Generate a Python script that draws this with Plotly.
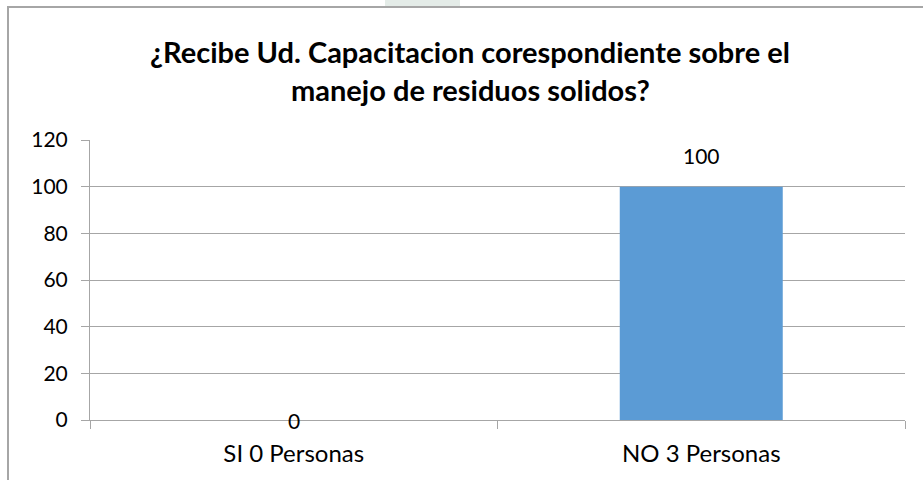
import plotly.graph_objects as go

categories = ["SI 0 Personas", "NO 3 Personas"]
values = [0, 100]
y_ticks = [0, 20, 40, 60, 80, 100, 120]
title_lines = ["¿Recibe Ud. Capacitacion corespondiente sobre el", "manejo de residuos solidos?"]

W, H = 923, 480
# target plot area in window pixels: x 90..905, y 140..420
L, R, T, B = 90, 923 - 905, 140, 480 - 420
pw, ph = W - L - R, H - T - B


def px_x(p):
    return (p - L) / pw


def px_y(p):
    return (H - B - p) / ph


FONT = "Lato"
GRID = "#a6a6a6"

fig = go.Figure(
    go.Bar(
        x=categories,
        y=values,
        width=0.4,
        marker=dict(color="#5B9BD5", line=dict(width=0)),
        hoverinfo="x+y",
    )
)

annotations = []
for c, v in zip(categories, values):
    if v == 0:
        annotations.append(dict(x=c, y=v, xref="x", yref="y", text=str(v), showarrow=False,
                                yanchor="middle", yshift=0,
                                font=dict(family=FONT, size=21, color="#000000")))
    else:
        annotations.append(dict(x=c, y=v, xref="x", yref="y", text=str(v), showarrow=False,
                                yanchor="bottom", yshift=17,
                                font=dict(family=FONT, size=21, color="#000000")))

title_y = [51, 89]
for line, yy in zip(title_lines, title_y):
    annotations.append(dict(x=px_x(470), y=px_y(yy), xref="paper", yref="paper", text="<b>" + line + "</b>",
                            showarrow=False, xanchor="center", yanchor="middle",
                            font=dict(family=FONT, size=29, color="#000000")))

shapes = [
    # chart border (top and left)
    dict(type="line", xref="paper", yref="paper", x0=px_x(7), x1=px_x(950), y0=px_y(7), y1=px_y(7),
         line=dict(color="#a6a6a6", width=2), layer="above"),
    dict(type="line", xref="paper", yref="paper", x0=px_x(8), x1=px_x(8), y0=px_y(6), y1=px_y(500),
         line=dict(color="#a6a6a6", width=2), layer="above"),
    # faint watermark above border
    dict(type="rect", xref="paper", yref="paper", x0=px_x(385), x1=px_x(460), y0=px_y(0), y1=px_y(6),
         fillcolor="#e4ece8", line=dict(width=0), layer="above"),
]

fig.update_layout(
    width=W,
    height=H,
    margin=dict(l=L, r=R, t=T, b=B, pad=0),
    paper_bgcolor="#ffffff",
    plot_bgcolor="#ffffff",
    showlegend=False,
    annotations=annotations,
    shapes=shapes,
    font=dict(family=FONT, size=21, color="#000000"),
)

fig.update_xaxes(
    type="category",
    tickson="boundaries",
    ticks="outside",
    ticklen=8,
    tickcolor=GRID,
    tickwidth=1,
    showline=True,
    linecolor=GRID,
    linewidth=1,
    showgrid=False,
    tickfont=dict(family=FONT, size=24, color="#000000"),
    ticklabelstandoff=12,
)

fig.update_yaxes(
    range=[0, 120],
    tickvals=y_ticks,
    ticks="outside",
    ticklen=8,
    tickcolor=GRID,
    tickwidth=1,
    showline=True,
    linecolor=GRID,
    linewidth=1,
    showgrid=True,
    gridcolor=GRID,
    gridwidth=1,
    zeroline=False,
    tickfont=dict(family=FONT, size=21, color="#000000"),
    ticklabelstandoff=9,
)

fig.write_html(
    "out.html",
    config={"displayModeBar": False},
    post_script="document.body.style.margin='0';",
)
